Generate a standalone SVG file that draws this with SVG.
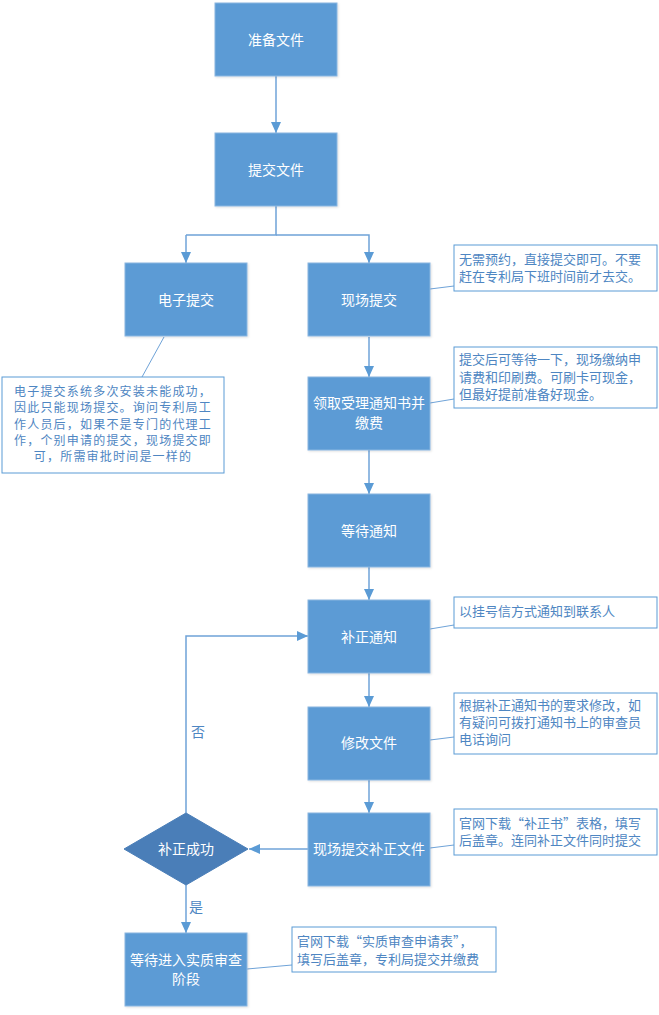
<svg xmlns="http://www.w3.org/2000/svg" width="659" height="1015" viewBox="0 0 659 1015">
<defs>
<marker id="arr" markerUnits="userSpaceOnUse" markerWidth="12" markerHeight="12" viewBox="0 0 12 12" refX="11" refY="6" orient="auto">
<path d="M0,1 L11,6 L0,11 Z" fill="#5B9BD5"/>
</marker>
<filter id="sh" x="-10%" y="-10%" width="130%" height="130%">
<feDropShadow dx="1" dy="1" stdDeviation="1" flood-color="#000" flood-opacity="0.12"/>
</filter>
</defs>
<style>
.box{fill:#5B9BD5;stroke:#8AB6E0;stroke-width:1;filter:url(#sh)}
.dia{fill:#4A7EB8;stroke:#4A7EB8;stroke-width:1}
.bt{fill:#ffffff;font-family:"Noto Sans CJK SC","Microsoft YaHei",sans-serif;font-size:14px;text-anchor:middle}
.note{fill:#ffffff;stroke:#5B9BD5;stroke-width:1}
.nt{fill:#4E86C2;font-family:"Noto Sans CJK SC","Microsoft YaHei",sans-serif;font-size:13px}
.nts{fill:#4E86C2;font-family:"Noto Sans CJK SC","Microsoft YaHei",sans-serif;font-size:12px;letter-spacing:1.2px;text-anchor:middle}
.lbl{fill:#4E86C2;font-family:"Noto Sans CJK SC","Microsoft YaHei",sans-serif;font-size:14px}
.c{fill:none;stroke:#6FA3D8;stroke-width:1.5}
.ca{fill:none;stroke:#6FA3D8;stroke-width:1.5;marker-end:url(#arr)}
.cl{fill:none;stroke:#6FA3D8;stroke-width:1}
</style>
<g id="connectors">
<path class="ca" d="M276,76 L276,133"/>
<path class="c" d="M276,206 L276,235 L186,235"/>
<path class="ca" d="M186,235 L186,263"/>
<path class="ca" d="M276,235 L369,235 L369,263"/>
<path class="ca" d="M369,337 L369,377"/>
<path class="ca" d="M369,450 L369,494"/>
<path class="ca" d="M369,567 L369,600"/>
<path class="ca" d="M369,673 L369,707"/>
<path class="ca" d="M369,779 L369,813"/>
<path class="ca" d="M308,849 L249,849"/>
<path class="ca" d="M186,813 L186,636 L308,636"/>
<path class="ca" d="M186,885 L186,933"/>
<path class="cl" d="M164,337 L142,377"/>
<path class="cl" d="M430,289 L454,286"/>
<path class="cl" d="M430,403 L454,399"/>
<path class="cl" d="M430,629 L454,625"/>
<path class="cl" d="M430,740 L454,737"/>
<path class="cl" d="M430,848 L454,845"/>
<path class="cl" d="M247,969 L292,965"/>
<text class="lbl" x="191" y="737">否</text>
<text class="lbl" x="189" y="912">是</text>
</g>
<g id="n1"><rect class="box" x="215" y="3" width="122" height="73"/><text class="bt" x="276" y="45">准备文件</text></g>
<g id="n2"><rect class="box" x="215" y="133" width="122" height="73"/><text class="bt" x="276" y="175">提交文件</text></g>
<g id="n3"><rect class="box" x="125" y="263" width="122" height="73"/><text class="bt" x="186" y="305">电子提交</text></g>
<g id="n4"><rect class="box" x="308" y="263" width="122" height="73"/><text class="bt" x="369" y="305">现场提交</text></g>
<g id="n5"><rect class="box" x="308" y="377" width="122" height="73"/><text class="bt" x="369" y="408">领取受理通知书并</text><text class="bt" x="369" y="428">缴费</text></g>
<g id="n6"><rect class="box" x="308" y="494" width="122" height="73"/><text class="bt" x="369" y="536">等待通知</text></g>
<g id="n7"><rect class="box" x="308" y="600" width="122" height="73"/><text class="bt" x="369" y="642">补正通知</text></g>
<g id="n8"><rect class="box" x="308" y="707" width="122" height="73"/><text class="bt" x="369" y="748">修改文件</text></g>
<g id="n9"><rect class="box" x="308" y="813" width="122" height="73"/><text class="bt" x="369" y="854">现场提交补正文件</text></g>
<g id="n10"><path class="dia" d="M186,813 L248,849 L186,885 L124,849 Z"/><text class="bt" x="186" y="854">补正成功</text></g>
<g id="n11"><rect class="box" x="125" y="933" width="122" height="73"/><text class="bt" x="186" y="965">等待进入实质审查</text><text class="bt" x="186" y="984">阶段</text></g>
<g id="note1"><rect class="note" x="2" y="377" width="222" height="96"/>
<text class="nts" x="113" y="396">电子提交系统多次安装未能成功，</text>
<text class="nts" x="113" y="412">因此只能现场提交。询问专利局工</text>
<text class="nts" x="113" y="429">作人员后，如果不是专门的代理工</text>
<text class="nts" x="113" y="445">作，个别申请的提交，现场提交即</text>
<text class="nts" x="113" y="461">可，所需审批时间是一样的</text>
</g>
<g id="note2"><rect class="note" x="454" y="245" width="203" height="46"/>
<text class="nt" x="459" y="264">无需预约，直接提交即可。不要</text>
<text class="nt" x="459" y="281">赶在专利局下班时间前才去交。</text>
</g>
<g id="note3"><rect class="note" x="454" y="347" width="203" height="61"/>
<text class="nt" x="459" y="364">提交后可等待一下，现场缴纳申</text>
<text class="nt" x="459" y="382">请费和印刷费。可刷卡可现金，</text>
<text class="nt" x="459" y="399">但最好提前准备好现金。</text>
</g>
<g id="note4"><rect class="note" x="454" y="597" width="203" height="31"/>
<text class="nt" x="459" y="616">以挂号信方式通知到联系人</text>
</g>
<g id="note5"><rect class="note" x="454" y="693" width="203" height="61"/>
<text class="nt" x="459" y="710">根据补正通知书的要求修改，如</text>
<text class="nt" x="459" y="727">有疑问可拨打通知书上的审查员</text>
<text class="nt" x="459" y="744">电话询问</text>
</g>
<g id="note6"><rect class="note" x="454" y="809" width="203" height="46"/>
<text class="nt" x="459" y="828">官网下载“补正书”表格，填写</text>
<text class="nt" x="459" y="845">后盖章。连同补正文件同时提交</text>
</g>
<g id="note7"><rect class="note" x="292" y="927" width="204" height="45"/>
<text class="nt" x="297" y="946">官网下载“实质审查申请表”，</text>
<text class="nt" x="297" y="964">填写后盖章，专利局提交并缴费</text>
</g>
</svg>
